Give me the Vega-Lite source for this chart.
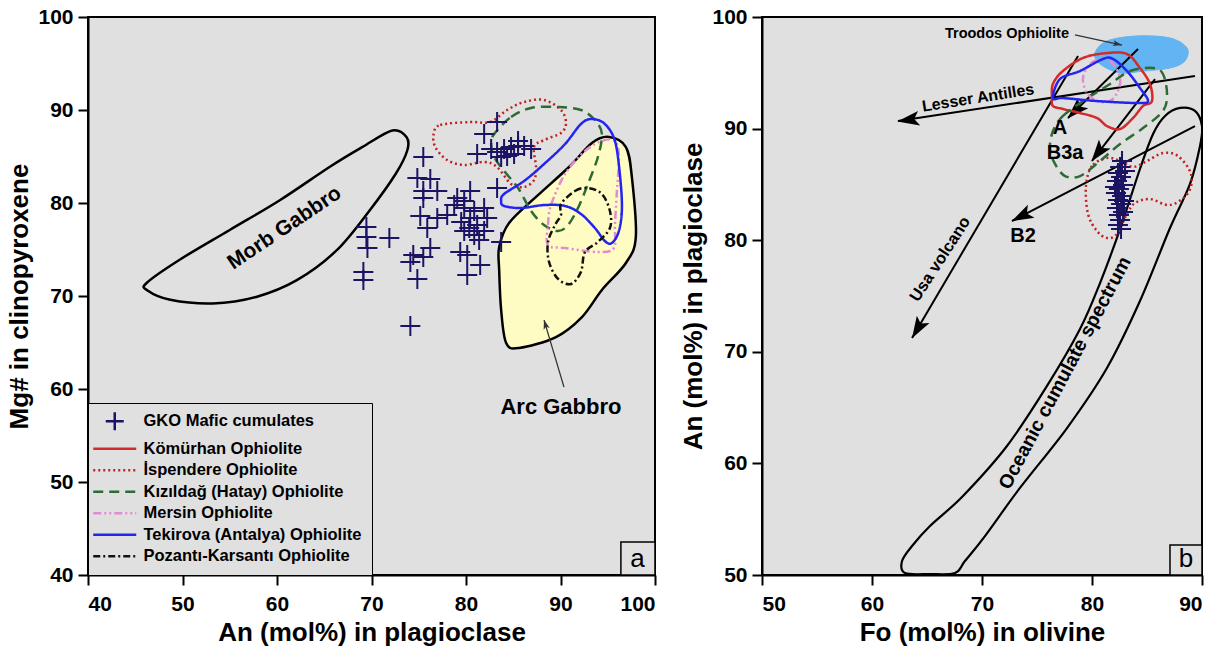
{
  "$schema": "https://vega.github.io/schema/vega-lite/v6.json",
  "padding": {"left": 5, "top": 5, "right": 5, "bottom": 5},
  "background": "white",
  "spacing": 22,
  "config": {
    "font": "Liberation Sans",
    "view": {"stroke": "black", "strokeWidth": 2, "fill": "#e0e0e0"},
    "axis": {"grid": false, "domainColor": "black", "domainWidth": 2, "tickColor": "black", "tickWidth": 2, "tickSize": 10, "labelFont": "Liberation Sans", "labelFontSize": 21, "labelFontWeight": "bold", "labelColor": "black", "labelPadding": 5, "titleFont": "Liberation Sans", "titleFontSize": 26, "titleFontWeight": "bold", "titleColor": "black", "titlePadding": 5},
    "axisX": {"labelPadding": 8},
    "legend": {"orient": "bottom-left", "offset": 0, "padding": 10, "strokeColor": "black", "fillColor": "#e0e0e0", "labelFont": "Liberation Sans", "labelFontSize": 16.5, "labelFontWeight": "bold", "labelColor": "black", "symbolSize": 100, "symbolStrokeWidth": 2.5, "labelOffset": 29, "rowPadding": 4.5, "labelLimit": 400},
    "text": {"font": "Liberation Sans", "fontWeight": "bold", "color": "black"}
  },
  "datasets": {
    "leftShapes": [
      {"shape": "Morb Gabbro", "i": 0, "x": 46.2, "y": 71.4},
      {"shape": "Morb Gabbro", "i": 1, "x": 49.7, "y": 73.9},
      {"shape": "Morb Gabbro", "i": 2, "x": 55.0, "y": 77.1},
      {"shape": "Morb Gabbro", "i": 3, "x": 60.3, "y": 80.3},
      {"shape": "Morb Gabbro", "i": 4, "x": 65.6, "y": 83.9},
      {"shape": "Morb Gabbro", "i": 5, "x": 69.0, "y": 86.0},
      {"shape": "Morb Gabbro", "i": 6, "x": 72.2, "y": 87.8},
      {"shape": "Morb Gabbro", "i": 7, "x": 73.7, "y": 87.1},
      {"shape": "Morb Gabbro", "i": 8, "x": 73.8, "y": 85.7},
      {"shape": "Morb Gabbro", "i": 9, "x": 72.6, "y": 83.2},
      {"shape": "Morb Gabbro", "i": 10, "x": 69.8, "y": 79.2},
      {"shape": "Morb Gabbro", "i": 11, "x": 66.3, "y": 74.9},
      {"shape": "Morb Gabbro", "i": 12, "x": 62.1, "y": 71.7},
      {"shape": "Morb Gabbro", "i": 13, "x": 57.8, "y": 69.9},
      {"shape": "Morb Gabbro", "i": 14, "x": 53.2, "y": 69.2},
      {"shape": "Morb Gabbro", "i": 15, "x": 48.7, "y": 69.6},
      {"shape": "Morb Gabbro", "i": 16, "x": 46.3, "y": 70.6},
      {"shape": "Arc Gabbro", "i": 0, "x": 95.12, "y": 87.10},
      {"shape": "Arc Gabbro", "i": 1, "x": 96.92, "y": 86.02},
      {"shape": "Arc Gabbro", "i": 2, "x": 97.55, "y": 82.80},
      {"shape": "Arc Gabbro", "i": 3, "x": 97.97, "y": 76.34},
      {"shape": "Arc Gabbro", "i": 4, "x": 96.92, "y": 73.55},
      {"shape": "Arc Gabbro", "i": 5, "x": 94.38, "y": 70.65},
      {"shape": "Arc Gabbro", "i": 6, "x": 92.27, "y": 67.74},
      {"shape": "Arc Gabbro", "i": 7, "x": 89.52, "y": 65.59},
      {"shape": "Arc Gabbro", "i": 8, "x": 85.62, "y": 64.41},
      {"shape": "Arc Gabbro", "i": 9, "x": 84.25, "y": 64.95},
      {"shape": "Arc Gabbro", "i": 10, "x": 83.72, "y": 68.49},
      {"shape": "Arc Gabbro", "i": 11, "x": 83.51, "y": 72.80},
      {"shape": "Arc Gabbro", "i": 12, "x": 83.51, "y": 75.27},
      {"shape": "Arc Gabbro", "i": 13, "x": 84.56, "y": 77.85},
      {"shape": "Arc Gabbro", "i": 14, "x": 87.41, "y": 80.65},
      {"shape": "Arc Gabbro", "i": 15, "x": 90.90, "y": 83.87},
      {"shape": "Arc Gabbro", "i": 16, "x": 93.33, "y": 86.45}
    ],
    "leftCurves": [
      {"series": "İspendere Ophiolite", "i": 0, "x": 76.58, "y": 87.44},
      {"series": "İspendere Ophiolite", "i": 1, "x": 77.28, "y": 88.39},
      {"series": "İspendere Ophiolite", "i": 2, "x": 80.44, "y": 88.71},
      {"series": "İspendere Ophiolite", "i": 3, "x": 82.56, "y": 88.71},
      {"series": "İspendere Ophiolite", "i": 4, "x": 84.35, "y": 90.00},
      {"series": "İspendere Ophiolite", "i": 5, "x": 86.15, "y": 90.86},
      {"series": "İspendere Ophiolite", "i": 6, "x": 88.26, "y": 91.08},
      {"series": "İspendere Ophiolite", "i": 7, "x": 90.05, "y": 90.00},
      {"series": "İspendere Ophiolite", "i": 8, "x": 90.58, "y": 88.60},
      {"series": "İspendere Ophiolite", "i": 9, "x": 90.05, "y": 87.53},
      {"series": "İspendere Ophiolite", "i": 10, "x": 88.26, "y": 86.77},
      {"series": "İspendere Ophiolite", "i": 11, "x": 87.20, "y": 86.02},
      {"series": "İspendere Ophiolite", "i": 12, "x": 87.41, "y": 83.87},
      {"series": "İspendere Ophiolite", "i": 13, "x": 87.20, "y": 82.47},
      {"series": "İspendere Ophiolite", "i": 14, "x": 86.15, "y": 81.72},
      {"series": "İspendere Ophiolite", "i": 15, "x": 84.77, "y": 82.04},
      {"series": "İspendere Ophiolite", "i": 16, "x": 83.29, "y": 83.87},
      {"series": "İspendere Ophiolite", "i": 17, "x": 81.92, "y": 84.41},
      {"series": "İspendere Ophiolite", "i": 18, "x": 79.81, "y": 84.09},
      {"series": "İspendere Ophiolite", "i": 19, "x": 78.01, "y": 84.62},
      {"series": "İspendere Ophiolite", "i": 20, "x": 76.75, "y": 86.02},
      {"series": "Kızıldağ (Hatay) Ophiolite", "i": 0, "x": 82.98, "y": 87.42},
      {"series": "Kızıldağ (Hatay) Ophiolite", "i": 1, "x": 84.77, "y": 89.25},
      {"series": "Kızıldağ (Hatay) Ophiolite", "i": 2, "x": 86.89, "y": 90.22},
      {"series": "Kızıldağ (Hatay) Ophiolite", "i": 3, "x": 89.74, "y": 90.32},
      {"series": "Kızıldağ (Hatay) Ophiolite", "i": 4, "x": 92.16, "y": 90.00},
      {"series": "Kızıldağ (Hatay) Ophiolite", "i": 5, "x": 93.64, "y": 88.92},
      {"series": "Kızıldağ (Hatay) Ophiolite", "i": 6, "x": 94.38, "y": 87.42},
      {"series": "Kızıldağ (Hatay) Ophiolite", "i": 7, "x": 93.96, "y": 84.95},
      {"series": "Kızıldağ (Hatay) Ophiolite", "i": 8, "x": 92.90, "y": 82.04},
      {"series": "Kızıldağ (Hatay) Ophiolite", "i": 9, "x": 91.85, "y": 79.46},
      {"series": "Kızıldağ (Hatay) Ophiolite", "i": 10, "x": 90.79, "y": 77.63},
      {"series": "Kızıldağ (Hatay) Ophiolite", "i": 11, "x": 89.74, "y": 76.99},
      {"series": "Kızıldağ (Hatay) Ophiolite", "i": 12, "x": 88.26, "y": 77.63},
      {"series": "Kızıldağ (Hatay) Ophiolite", "i": 13, "x": 86.89, "y": 79.14},
      {"series": "Kızıldağ (Hatay) Ophiolite", "i": 14, "x": 85.51, "y": 81.61},
      {"series": "Kızıldağ (Hatay) Ophiolite", "i": 15, "x": 84.03, "y": 83.44},
      {"series": "Kızıldağ (Hatay) Ophiolite", "i": 16, "x": 82.98, "y": 84.95},
      {"series": "Kızıldağ (Hatay) Ophiolite", "i": 17, "x": 82.66, "y": 86.34},
      {"series": "Mersin Ophiolite", "i": 0, "x": 88.68, "y": 75.48},
      {"series": "Mersin Ophiolite", "i": 1, "x": 88.68, "y": 77.63},
      {"series": "Mersin Ophiolite", "i": 2, "x": 89.00, "y": 79.78},
      {"series": "Mersin Ophiolite", "i": 3, "x": 90.48, "y": 83.12},
      {"series": "Mersin Ophiolite", "i": 4, "x": 92.59, "y": 85.59},
      {"series": "Mersin Ophiolite", "i": 5, "x": 94.38, "y": 86.67},
      {"series": "Mersin Ophiolite", "i": 6, "x": 95.76, "y": 86.67},
      {"series": "Mersin Ophiolite", "i": 7, "x": 96.18, "y": 84.95},
      {"series": "Mersin Ophiolite", "i": 8, "x": 95.97, "y": 81.29},
      {"series": "Mersin Ophiolite", "i": 9, "x": 95.76, "y": 77.63},
      {"series": "Mersin Ophiolite", "i": 10, "x": 95.65, "y": 75.16},
      {"series": "Mersin Ophiolite", "i": 11, "x": 93.96, "y": 74.73},
      {"series": "Mersin Ophiolite", "i": 12, "x": 90.48, "y": 75.16},
      {"series": "Tekirova (Antalya) Ophiolite", "i": 0, "x": 83.72, "y": 80.22},
      {"series": "Tekirova (Antalya) Ophiolite", "i": 1, "x": 84.03, "y": 80.97},
      {"series": "Tekirova (Antalya) Ophiolite", "i": 2, "x": 86.15, "y": 82.37},
      {"series": "Tekirova (Antalya) Ophiolite", "i": 3, "x": 88.26, "y": 84.19},
      {"series": "Tekirova (Antalya) Ophiolite", "i": 4, "x": 90.48, "y": 86.34},
      {"series": "Tekirova (Antalya) Ophiolite", "i": 5, "x": 92.16, "y": 88.49},
      {"series": "Tekirova (Antalya) Ophiolite", "i": 6, "x": 93.33, "y": 89.03},
      {"series": "Tekirova (Antalya) Ophiolite", "i": 7, "x": 94.70, "y": 88.49},
      {"series": "Tekirova (Antalya) Ophiolite", "i": 8, "x": 95.76, "y": 86.67},
      {"series": "Tekirova (Antalya) Ophiolite", "i": 9, "x": 96.28, "y": 83.12},
      {"series": "Tekirova (Antalya) Ophiolite", "i": 10, "x": 96.50, "y": 79.46},
      {"series": "Tekirova (Antalya) Ophiolite", "i": 11, "x": 96.18, "y": 76.99},
      {"series": "Tekirova (Antalya) Ophiolite", "i": 12, "x": 95.44, "y": 75.70},
      {"series": "Tekirova (Antalya) Ophiolite", "i": 13, "x": 94.70, "y": 75.91},
      {"series": "Tekirova (Antalya) Ophiolite", "i": 14, "x": 93.64, "y": 77.31},
      {"series": "Tekirova (Antalya) Ophiolite", "i": 15, "x": 92.16, "y": 78.82},
      {"series": "Tekirova (Antalya) Ophiolite", "i": 16, "x": 90.48, "y": 79.68},
      {"series": "Tekirova (Antalya) Ophiolite", "i": 17, "x": 88.26, "y": 79.78},
      {"series": "Tekirova (Antalya) Ophiolite", "i": 18, "x": 85.83, "y": 79.46},
      {"series": "Tekirova (Antalya) Ophiolite", "i": 19, "x": 84.03, "y": 79.68},
      {"series": "Pozantı-Karsantı Ophiolite", "i": 0, "x": 90.05, "y": 79.89},
      {"series": "Pozantı-Karsantı Ophiolite", "i": 1, "x": 91.53, "y": 81.29},
      {"series": "Pozantı-Karsantı Ophiolite", "i": 2, "x": 92.90, "y": 81.61},
      {"series": "Pozantı-Karsantı Ophiolite", "i": 3, "x": 94.38, "y": 80.97},
      {"series": "Pozantı-Karsantı Ophiolite", "i": 4, "x": 95.23, "y": 79.14},
      {"series": "Pozantı-Karsantı Ophiolite", "i": 5, "x": 95.23, "y": 77.31},
      {"series": "Pozantı-Karsantı Ophiolite", "i": 6, "x": 93.96, "y": 75.81},
      {"series": "Pozantı-Karsantı Ophiolite", "i": 7, "x": 92.59, "y": 74.73},
      {"series": "Pozantı-Karsantı Ophiolite", "i": 8, "x": 92.16, "y": 72.58},
      {"series": "Pozantı-Karsantı Ophiolite", "i": 9, "x": 91.11, "y": 71.29},
      {"series": "Pozantı-Karsantı Ophiolite", "i": 10, "x": 89.74, "y": 71.83},
      {"series": "Pozantı-Karsantı Ophiolite", "i": 11, "x": 88.79, "y": 73.66},
      {"series": "Pozantı-Karsantı Ophiolite", "i": 12, "x": 88.68, "y": 75.81},
      {"series": "Pozantı-Karsantı Ophiolite", "i": 13, "x": 89.42, "y": 77.63},
      {"series": "Pozantı-Karsantı Ophiolite", "i": 14, "x": 90.05, "y": 78.71}
    ],
    "leftCrosses": [
      {"series": "GKO Mafic cumulates", "x": 69.46, "y": 77.42},
      {"series": "GKO Mafic cumulates", "x": 69.46, "y": 76.34},
      {"series": "GKO Mafic cumulates", "x": 71.89, "y": 76.24},
      {"series": "GKO Mafic cumulates", "x": 69.57, "y": 75.16},
      {"series": "GKO Mafic cumulates", "x": 69.14, "y": 72.58},
      {"series": "GKO Mafic cumulates", "x": 69.14, "y": 71.72},
      {"series": "GKO Mafic cumulates", "x": 75.48, "y": 84.95},
      {"series": "GKO Mafic cumulates", "x": 74.85, "y": 82.69},
      {"series": "GKO Mafic cumulates", "x": 76.22, "y": 82.58},
      {"series": "GKO Mafic cumulates", "x": 75.48, "y": 81.29},
      {"series": "GKO Mafic cumulates", "x": 76.96, "y": 81.29},
      {"series": "GKO Mafic cumulates", "x": 75.48, "y": 80.54},
      {"series": "GKO Mafic cumulates", "x": 75.16, "y": 78.60},
      {"series": "GKO Mafic cumulates", "x": 76.96, "y": 78.39},
      {"series": "GKO Mafic cumulates", "x": 75.90, "y": 77.31},
      {"series": "GKO Mafic cumulates", "x": 76.22, "y": 75.16},
      {"series": "GKO Mafic cumulates", "x": 74.42, "y": 74.41},
      {"series": "GKO Mafic cumulates", "x": 75.48, "y": 74.19},
      {"series": "GKO Mafic cumulates", "x": 74.11, "y": 73.66},
      {"series": "GKO Mafic cumulates", "x": 74.85, "y": 71.83},
      {"series": "GKO Mafic cumulates", "x": 74.11, "y": 66.77},
      {"series": "GKO Mafic cumulates", "x": 79.07, "y": 80.54},
      {"series": "GKO Mafic cumulates", "x": 79.81, "y": 80.22},
      {"series": "GKO Mafic cumulates", "x": 80.44, "y": 81.29},
      {"series": "GKO Mafic cumulates", "x": 79.81, "y": 79.46},
      {"series": "GKO Mafic cumulates", "x": 80.87, "y": 79.14},
      {"series": "GKO Mafic cumulates", "x": 81.92, "y": 79.46},
      {"series": "GKO Mafic cumulates", "x": 78.01, "y": 78.71},
      {"series": "GKO Mafic cumulates", "x": 80.44, "y": 78.39},
      {"series": "GKO Mafic cumulates", "x": 82.24, "y": 78.39},
      {"series": "GKO Mafic cumulates", "x": 81.18, "y": 77.63},
      {"series": "GKO Mafic cumulates", "x": 79.81, "y": 76.99},
      {"series": "GKO Mafic cumulates", "x": 80.87, "y": 76.56},
      {"series": "GKO Mafic cumulates", "x": 81.92, "y": 76.99},
      {"series": "GKO Mafic cumulates", "x": 79.39, "y": 74.73},
      {"series": "GKO Mafic cumulates", "x": 80.13, "y": 74.41},
      {"series": "GKO Mafic cumulates", "x": 81.50, "y": 73.33},
      {"series": "GKO Mafic cumulates", "x": 80.13, "y": 72.26},
      {"series": "GKO Mafic cumulates", "x": 83.29, "y": 81.61},
      {"series": "GKO Mafic cumulates", "x": 83.72, "y": 75.81},
      {"series": "GKO Mafic cumulates", "x": 83.29, "y": 88.71},
      {"series": "GKO Mafic cumulates", "x": 81.92, "y": 87.42},
      {"series": "GKO Mafic cumulates", "x": 81.18, "y": 85.27},
      {"series": "GKO Mafic cumulates", "x": 82.66, "y": 85.81},
      {"series": "GKO Mafic cumulates", "x": 83.29, "y": 85.48},
      {"series": "GKO Mafic cumulates", "x": 84.03, "y": 85.81},
      {"series": "GKO Mafic cumulates", "x": 84.77, "y": 86.02},
      {"series": "GKO Mafic cumulates", "x": 85.51, "y": 86.13},
      {"series": "GKO Mafic cumulates", "x": 86.15, "y": 86.13},
      {"series": "GKO Mafic cumulates", "x": 86.89, "y": 85.81},
      {"series": "GKO Mafic cumulates", "x": 84.35, "y": 85.05},
      {"series": "GKO Mafic cumulates", "x": 85.09, "y": 85.27},
      {"series": "GKO Mafic cumulates", "x": 83.72, "y": 84.95},
      {"series": "GKO Mafic cumulates", "x": 85.51, "y": 86.67},
      {"series": "GKO Mafic cumulates", "x": 78.75, "y": 79.78},
      {"series": "GKO Mafic cumulates", "x": 79.49, "y": 77.96},
      {"series": "GKO Mafic cumulates", "x": 80.34, "y": 77.31},
      {"series": "GKO Mafic cumulates", "x": 81.39, "y": 76.02}
    ],
    "leftArrow": [
      {"i": 0, "x": 90.37, "y": 60.2},
      {"i": 1, "x": 88.26, "y": 67.4}
    ],
    "leftHead": [{"x": 88.41, "y": 66.90}],
    "leftNotes": [
      {"label": "Morb Gabbro", "x": 60.8, "y": 77.3},
      {"label": "Arc Gabbro", "x": 90.05, "y": 58.06},
      {"label": "a", "x": 98.15, "y": 41.7}
    ],
    "leftBox": [{"x": 96.39, "x2": 100, "y": 40, "y2": 43.55}],
    "rightTroodos": [
      {"i": 0, "x": 80.27, "y": 96.77},
      {"i": 1, "x": 81.36, "y": 97.85},
      {"i": 2, "x": 84.09, "y": 98.30},
      {"i": 3, "x": 87.09, "y": 98.12},
      {"i": 4, "x": 88.64, "y": 97.22},
      {"i": 5, "x": 88.45, "y": 96.06},
      {"i": 6, "x": 87.09, "y": 95.43},
      {"i": 7, "x": 84.64, "y": 95.16},
      {"i": 8, "x": 82.55, "y": 94.98},
      {"i": 9, "x": 80.73, "y": 95.79}
    ],
    "rightOceanic": [
      {"i": 0, "x": 63.00, "y": 50.18},
      {"i": 1, "x": 62.73, "y": 51.25},
      {"i": 2, "x": 63.64, "y": 52.60},
      {"i": 3, "x": 65.27, "y": 54.39},
      {"i": 4, "x": 68.27, "y": 57.08},
      {"i": 5, "x": 72.27, "y": 61.56},
      {"i": 6, "x": 75.91, "y": 66.94},
      {"i": 7, "x": 78.91, "y": 72.04},
      {"i": 8, "x": 80.73, "y": 76.16},
      {"i": 9, "x": 82.55, "y": 81.00},
      {"i": 10, "x": 84.36, "y": 86.38},
      {"i": 11, "x": 85.55, "y": 89.52},
      {"i": 12, "x": 86.64, "y": 91.13},
      {"i": 13, "x": 88.00, "y": 91.85},
      {"i": 14, "x": 89.36, "y": 91.58},
      {"i": 15, "x": 90.00, "y": 90.23},
      {"i": 16, "x": 89.82, "y": 88.44},
      {"i": 17, "x": 88.91, "y": 85.04},
      {"i": 18, "x": 87.09, "y": 81.09},
      {"i": 19, "x": 84.36, "y": 74.55},
      {"i": 20, "x": 81.36, "y": 68.55},
      {"i": 21, "x": 77.73, "y": 63.17},
      {"i": 22, "x": 73.45, "y": 57.80},
      {"i": 23, "x": 70.27, "y": 53.49},
      {"i": 24, "x": 68.45, "y": 51.25},
      {"i": 25, "x": 67.55, "y": 50.18},
      {"i": 26, "x": 65.27, "y": 50.09}
    ],
    "rightArrows": [
      {"arrow": "Lesser Antilles", "i": 0, "x": 89.36, "y": 94.71},
      {"arrow": "Lesser Antilles", "i": 1, "x": 62.36, "y": 90.68},
      {"arrow": "Usa volcano", "i": 0, "x": 78.73, "y": 96.51},
      {"arrow": "Usa volcano", "i": 1, "x": 63.64, "y": 71.24},
      {"arrow": "A", "i": 0, "x": 84.18, "y": 97.13},
      {"arrow": "A", "i": 1, "x": 77.82, "y": 90.95},
      {"arrow": "B3a", "i": 0, "x": 85.73, "y": 94.44},
      {"arrow": "B3a", "i": 1, "x": 80.00, "y": 87.10},
      {"arrow": "B2", "i": 0, "x": 89.36, "y": 90.23},
      {"arrow": "B2", "i": 1, "x": 72.73, "y": 81.72}
    ],
    "rightHeads": [
      {"arrow": "Lesser Antilles", "x": 63.40, "y": 90.80},
      {"arrow": "Usa volcano", "x": 64.20, "y": 72.15},
      {"arrow": "A", "x": 78.56, "y": 91.68},
      {"arrow": "B3a", "x": 80.62, "y": 87.92},
      {"arrow": "B2", "x": 73.68, "y": 82.20}
    ],
    "rightPointer": [
      {"i": 0, "x": 78.45, "y": 98.39},
      {"i": 1, "x": 82.73, "y": 97.49}
    ],
    "rightPointerHead": [{"x": 82.28, "y": 97.58}],
    "rightCurves": [
      {"series": "Kömürhan Ophiolite", "i": 0, "x": 76.45, "y": 94.00},
      {"series": "Kömürhan Ophiolite", "i": 1, "x": 77.36, "y": 95.16},
      {"series": "Kömürhan Ophiolite", "i": 2, "x": 79.18, "y": 96.33},
      {"series": "Kömürhan Ophiolite", "i": 3, "x": 81.36, "y": 96.77},
      {"series": "Kömürhan Ophiolite", "i": 4, "x": 83.18, "y": 96.68},
      {"series": "Kömürhan Ophiolite", "i": 5, "x": 84.36, "y": 95.43},
      {"series": "Kömürhan Ophiolite", "i": 6, "x": 85.27, "y": 94.00},
      {"series": "Kömürhan Ophiolite", "i": 7, "x": 85.45, "y": 92.47},
      {"series": "Kömürhan Ophiolite", "i": 8, "x": 84.64, "y": 92.03},
      {"series": "Kömürhan Ophiolite", "i": 9, "x": 83.73, "y": 90.95},
      {"series": "Kömürhan Ophiolite", "i": 10, "x": 82.55, "y": 89.96},
      {"series": "Kömürhan Ophiolite", "i": 11, "x": 81.36, "y": 90.23},
      {"series": "Kömürhan Ophiolite", "i": 12, "x": 80.45, "y": 90.95},
      {"series": "Kömürhan Ophiolite", "i": 13, "x": 78.91, "y": 91.40},
      {"series": "Kömürhan Ophiolite", "i": 14, "x": 77.36, "y": 91.76},
      {"series": "Kömürhan Ophiolite", "i": 15, "x": 76.45, "y": 92.03},
      {"series": "Kömürhan Ophiolite", "i": 16, "x": 76.36, "y": 92.74},
      {"series": "İspendere Ophiolite", "i": 0, "x": 81.36, "y": 87.37},
      {"series": "İspendere Ophiolite", "i": 1, "x": 80.00, "y": 86.65},
      {"series": "İspendere Ophiolite", "i": 2, "x": 79.45, "y": 84.86},
      {"series": "İspendere Ophiolite", "i": 3, "x": 79.64, "y": 82.35},
      {"series": "İspendere Ophiolite", "i": 4, "x": 80.45, "y": 80.82},
      {"series": "İspendere Ophiolite", "i": 5, "x": 81.36, "y": 80.20},
      {"series": "İspendere Ophiolite", "i": 6, "x": 82.27, "y": 80.56},
      {"series": "İspendere Ophiolite", "i": 7, "x": 83.18, "y": 82.35},
      {"series": "İspendere Ophiolite", "i": 8, "x": 83.91, "y": 83.33},
      {"series": "İspendere Ophiolite", "i": 9, "x": 85.27, "y": 83.69},
      {"series": "İspendere Ophiolite", "i": 10, "x": 87.09, "y": 83.15},
      {"series": "İspendere Ophiolite", "i": 11, "x": 88.73, "y": 84.23},
      {"series": "İspendere Ophiolite", "i": 12, "x": 89.00, "y": 85.93},
      {"series": "İspendere Ophiolite", "i": 13, "x": 87.82, "y": 87.54},
      {"series": "İspendere Ophiolite", "i": 14, "x": 86.45, "y": 87.81},
      {"series": "İspendere Ophiolite", "i": 15, "x": 85.00, "y": 87.10},
      {"series": "İspendere Ophiolite", "i": 16, "x": 83.73, "y": 86.56},
      {"series": "İspendere Ophiolite", "i": 17, "x": 82.55, "y": 87.10},
      {"series": "Kızıldağ (Hatay) Ophiolite", "i": 0, "x": 76.45, "y": 89.78},
      {"series": "Kızıldağ (Hatay) Ophiolite", "i": 1, "x": 77.36, "y": 91.13},
      {"series": "Kızıldağ (Hatay) Ophiolite", "i": 2, "x": 79.18, "y": 92.47},
      {"series": "Kızıldağ (Hatay) Ophiolite", "i": 3, "x": 81.64, "y": 94.00},
      {"series": "Kızıldağ (Hatay) Ophiolite", "i": 4, "x": 83.45, "y": 95.16},
      {"series": "Kızıldağ (Hatay) Ophiolite", "i": 5, "x": 85.55, "y": 95.43},
      {"series": "Kızıldağ (Hatay) Ophiolite", "i": 6, "x": 86.45, "y": 94.89},
      {"series": "Kızıldağ (Hatay) Ophiolite", "i": 7, "x": 86.82, "y": 93.10},
      {"series": "Kızıldağ (Hatay) Ophiolite", "i": 8, "x": 86.45, "y": 91.58},
      {"series": "Kızıldağ (Hatay) Ophiolite", "i": 9, "x": 84.64, "y": 90.05},
      {"series": "Kızıldağ (Hatay) Ophiolite", "i": 10, "x": 82.55, "y": 88.62},
      {"series": "Kızıldağ (Hatay) Ophiolite", "i": 11, "x": 80.73, "y": 87.10},
      {"series": "Kızıldağ (Hatay) Ophiolite", "i": 12, "x": 78.91, "y": 85.75},
      {"series": "Kızıldağ (Hatay) Ophiolite", "i": 13, "x": 77.55, "y": 85.75},
      {"series": "Kızıldağ (Hatay) Ophiolite", "i": 14, "x": 76.64, "y": 86.83},
      {"series": "Kızıldağ (Hatay) Ophiolite", "i": 15, "x": 76.18, "y": 88.17},
      {"series": "Mersin Ophiolite", "i": 0, "x": 79.18, "y": 94.53},
      {"series": "Mersin Ophiolite", "i": 1, "x": 79.82, "y": 95.79},
      {"series": "Mersin Ophiolite", "i": 2, "x": 81.00, "y": 96.24},
      {"series": "Mersin Ophiolite", "i": 3, "x": 81.91, "y": 95.79},
      {"series": "Mersin Ophiolite", "i": 4, "x": 82.55, "y": 94.53},
      {"series": "Mersin Ophiolite", "i": 5, "x": 82.36, "y": 93.37},
      {"series": "Mersin Ophiolite", "i": 6, "x": 81.64, "y": 92.47},
      {"series": "Mersin Ophiolite", "i": 7, "x": 80.45, "y": 92.47},
      {"series": "Mersin Ophiolite", "i": 8, "x": 79.55, "y": 93.19},
      {"series": "Tekirova (Antalya) Ophiolite", "i": 0, "x": 76.45, "y": 92.74},
      {"series": "Tekirova (Antalya) Ophiolite", "i": 1, "x": 77.09, "y": 94.44},
      {"series": "Tekirova (Antalya) Ophiolite", "i": 2, "x": 78.91, "y": 95.16},
      {"series": "Tekirova (Antalya) Ophiolite", "i": 3, "x": 81.00, "y": 96.24},
      {"series": "Tekirova (Antalya) Ophiolite", "i": 4, "x": 81.91, "y": 96.24},
      {"series": "Tekirova (Antalya) Ophiolite", "i": 5, "x": 83.18, "y": 95.16},
      {"series": "Tekirova (Antalya) Ophiolite", "i": 6, "x": 84.36, "y": 93.64},
      {"series": "Tekirova (Antalya) Ophiolite", "i": 7, "x": 85.09, "y": 92.47},
      {"series": "Tekirova (Antalya) Ophiolite", "i": 8, "x": 84.09, "y": 92.29},
      {"series": "Tekirova (Antalya) Ophiolite", "i": 9, "x": 80.45, "y": 92.47},
      {"series": "Tekirova (Antalya) Ophiolite", "i": 10, "x": 77.36, "y": 92.74}
    ],
    "rightCrosses": [
      {"series": "GKO Mafic cumulates", "x": 82.73, "y": 87.10},
      {"series": "GKO Mafic cumulates", "x": 82.55, "y": 86.56},
      {"series": "GKO Mafic cumulates", "x": 82.36, "y": 86.02},
      {"series": "GKO Mafic cumulates", "x": 82.64, "y": 85.66},
      {"series": "GKO Mafic cumulates", "x": 82.27, "y": 85.30},
      {"series": "GKO Mafic cumulates", "x": 82.82, "y": 84.95},
      {"series": "GKO Mafic cumulates", "x": 82.45, "y": 84.59},
      {"series": "GKO Mafic cumulates", "x": 82.18, "y": 84.23},
      {"series": "GKO Mafic cumulates", "x": 82.73, "y": 83.96},
      {"series": "GKO Mafic cumulates", "x": 82.36, "y": 83.60},
      {"series": "GKO Mafic cumulates", "x": 82.64, "y": 83.24},
      {"series": "GKO Mafic cumulates", "x": 82.27, "y": 82.89},
      {"series": "GKO Mafic cumulates", "x": 82.82, "y": 82.53},
      {"series": "GKO Mafic cumulates", "x": 82.45, "y": 82.26},
      {"series": "GKO Mafic cumulates", "x": 82.55, "y": 81.81},
      {"series": "GKO Mafic cumulates", "x": 82.36, "y": 81.36},
      {"series": "GKO Mafic cumulates", "x": 82.64, "y": 81.00},
      {"series": "GKO Mafic cumulates", "x": 83.00, "y": 86.20},
      {"series": "GKO Mafic cumulates", "x": 82.09, "y": 84.77},
      {"series": "GKO Mafic cumulates", "x": 82.91, "y": 83.51}
    ],
    "rightNotes": [
      {"label": "Troodos Ophiolite", "x": 72.27, "y": 98.48},
      {"label": "Lesser Antilles", "x": 69.64, "y": 92.75},
      {"label": "Usa volcano", "x": 66.2, "y": 78.3},
      {"label": "A", "x": 77.09, "y": 90.05},
      {"label": "B3a", "x": 77.55, "y": 87.81},
      {"label": "B2", "x": 73.73, "y": 80.38},
      {"label": "Oceanic cumulate spectrum", "x": 77.55, "y": 68.10},
      {"label": "b", "x": 88.55, "y": 51.4}
    ],
    "rightBox": [{"x": 87.09, "x2": 90, "y": 50, "y2": 52.69}]
  },
  "resolve": {"scale": {"color": "independent", "strokeDash": "independent"}},
  "hconcat": [
    {
      "width": 567,
      "height": 558,
      "encoding": {
        "x": {"field": "x", "type": "quantitative", "scale": {"domain": [40, 100], "nice": false, "zero": false}, "axis": {"values": [40, 50, 60, 70, 80, 90, 100], "title": "An (mol%) in plagioclase"}},
        "y": {"field": "y", "type": "quantitative", "scale": {"domain": [40, 100], "nice": false, "zero": false}, "axis": {"values": [40, 50, 60, 70, 80, 90, 100], "title": "Mg# in clinopyroxene"}}
      },
      "layer": [
        {"data": {"name": "leftShapes"}, "transform": [{"filter": "datum.shape === 'Arc Gabbro'"}], "mark": {"type": "line", "interpolate": "cardinal-closed", "fill": "#fefcc3", "stroke": "black", "strokeWidth": 2.5}, "encoding": {"order": {"field": "i", "type": "quantitative"}}},
        {"data": {"name": "leftShapes"}, "transform": [{"filter": "datum.shape === 'Morb Gabbro'"}], "mark": {"type": "line", "interpolate": "cardinal-closed", "stroke": "black", "strokeWidth": 2.5}, "encoding": {"order": {"field": "i", "type": "quantitative"}}},
        {"data": {"name": "leftCurves"}, "mark": {"type": "line", "interpolate": "cardinal-closed", "strokeWidth": 2.5},
         "encoding": {
           "order": {"field": "i", "type": "quantitative"},
           "color": {"field": "series", "type": "nominal",
             "scale": {"domain": ["GKO Mafic cumulates", "Kömürhan Ophiolite", "İspendere Ophiolite", "Kızıldağ (Hatay) Ophiolite", "Mersin Ophiolite", "Tekirova (Antalya) Ophiolite", "Pozantı-Karsantı Ophiolite"], "range": ["#1b1464", "#d42a2a", "#c42020", "#2e6b34", "#e38bd0", "#2424f0", "#111111"]},
             "legend": {"title": null, "encode": {"symbols": {"update": {"shape": {"signal": "datum.value === 'GKO Mafic cumulates' ? 'M-0.1,0L3.5,0M1.7,-1.8L1.7,1.8' : 'M-2.6,0L6,0'"}}}}}},
           "strokeDash": {"field": "series", "type": "nominal",
             "scale": {"domain": ["GKO Mafic cumulates", "Kömürhan Ophiolite", "İspendere Ophiolite", "Kızıldağ (Hatay) Ophiolite", "Mersin Ophiolite", "Tekirova (Antalya) Ophiolite", "Pozantı-Karsantı Ophiolite"], "range": [[1, 0], [1, 0], [2, 3], [10, 6], [8, 3, 2, 3, 2, 3], [1, 0], [7, 3, 2, 3]]},
             "legend": {"title": null, "encode": {"symbols": {"update": {"shape": {"signal": "datum.value === 'GKO Mafic cumulates' ? 'M-0.1,0L3.5,0M1.7,-1.8L1.7,1.8' : 'M-2.6,0L6,0'"}}}}}}
         }},
        {"data": {"name": "leftCrosses"}, "mark": {"type": "point", "shape": "M-1,0L1,0M0,-1L0,1", "filled": false, "size": 400, "strokeWidth": 2, "opacity": 1},
         "encoding": {
           "color": {"field": "series", "type": "nominal",
             "scale": {"domain": ["GKO Mafic cumulates", "Kömürhan Ophiolite", "İspendere Ophiolite", "Kızıldağ (Hatay) Ophiolite", "Mersin Ophiolite", "Tekirova (Antalya) Ophiolite", "Pozantı-Karsantı Ophiolite"], "range": ["#1b1464", "#d42a2a", "#c42020", "#2e6b34", "#e38bd0", "#2424f0", "#111111"]},
             "legend": {"title": null, "encode": {"symbols": {"update": {"shape": {"signal": "datum.value === 'GKO Mafic cumulates' ? 'M-0.1,0L3.5,0M1.7,-1.8L1.7,1.8' : 'M-2.6,0L6,0'"}}}}}}
         }},
        {"data": {"name": "leftArrow"}, "mark": {"type": "line", "stroke": "#333333", "strokeWidth": 1.3}, "encoding": {"order": {"field": "i", "type": "quantitative"}}},
        {"data": {"name": "leftHead"}, "mark": {"type": "point", "shape": "M0,-1L0.6,0.8L0,0.4L-0.6,0.8Z", "filled": true, "color": "#333333", "size": 110, "angle": 343.4, "opacity": 1, "strokeWidth": 0}},
        {"data": {"name": "leftNotes"}, "transform": [{"filter": "datum.label === 'Morb Gabbro'"}], "mark": {"type": "text", "angle": 326, "fontSize": 21, "fontWeight": "bold"}, "encoding": {"text": {"field": "label", "type": "nominal"}}},
        {"data": {"name": "leftNotes"}, "transform": [{"filter": "datum.label === 'Arc Gabbro'"}], "mark": {"type": "text", "fontSize": 22, "fontWeight": "bold"}, "encoding": {"text": {"field": "label", "type": "nominal"}}},
        {"data": {"name": "leftBox"}, "mark": {"type": "rect", "fill": "#e0e0e0", "stroke": "black", "strokeWidth": 1.5}, "encoding": {"x2": {"field": "x2"}, "y2": {"field": "y2"}}},
        {"data": {"name": "leftNotes"}, "transform": [{"filter": "datum.label === 'a'"}], "mark": {"type": "text", "fontSize": 26, "fontWeight": "normal"}, "encoding": {"text": {"field": "label", "type": "nominal"}}}
      ]
    },
    {
      "width": 440,
      "height": 558,
      "encoding": {
        "x": {"field": "x", "type": "quantitative", "scale": {"domain": [50, 90], "nice": false, "zero": false}, "axis": {"values": [50, 60, 70, 80, 90], "title": "Fo (mol%) in olivine"}},
        "y": {"field": "y", "type": "quantitative", "scale": {"domain": [50, 100], "nice": false, "zero": false}, "axis": {"values": [50, 60, 70, 80, 90, 100], "title": "An (mol%) in plagioclase"}}
      },
      "layer": [
        {"data": {"name": "rightTroodos"}, "mark": {"type": "line", "interpolate": "cardinal-closed", "fill": "#62b4f2", "stroke": "#62b4f2", "strokeWidth": 1}, "encoding": {"order": {"field": "i", "type": "quantitative"}}},
        {"data": {"name": "rightOceanic"}, "mark": {"type": "line", "interpolate": "cardinal-closed", "stroke": "black", "strokeWidth": 2.2, "clip": true}, "encoding": {"order": {"field": "i", "type": "quantitative"}}},
        {"data": {"name": "rightArrows"}, "mark": {"type": "line", "stroke": "black", "strokeWidth": 2}, "encoding": {"order": {"field": "i", "type": "quantitative"}, "detail": {"field": "arrow", "type": "nominal"}}},
        {"data": {"name": "rightHeads"}, "transform": [{"filter": "datum.arrow === 'Lesser Antilles'"}], "mark": {"type": "point", "shape": "M0,-1L0.6,0.8L0,0.4L-0.6,0.8Z", "filled": true, "color": "black", "size": 600, "angle": 261.4, "opacity": 1, "strokeWidth": 0}},
        {"data": {"name": "rightHeads"}, "transform": [{"filter": "datum.arrow === 'Usa volcano'"}], "mark": {"type": "point", "shape": "M0,-1L0.6,0.8L0,0.4L-0.6,0.8Z", "filled": true, "color": "black", "size": 600, "angle": 210.5, "opacity": 1, "strokeWidth": 0}},
        {"data": {"name": "rightHeads"}, "transform": [{"filter": "datum.arrow === 'A'"}], "mark": {"type": "point", "shape": "M0,-1L0.6,0.8L0,0.4L-0.6,0.8Z", "filled": true, "color": "black", "size": 600, "angle": 225.4, "opacity": 1, "strokeWidth": 0}},
        {"data": {"name": "rightHeads"}, "transform": [{"filter": "datum.arrow === 'B3a'"}], "mark": {"type": "point", "shape": "M0,-1L0.6,0.8L0,0.4L-0.6,0.8Z", "filled": true, "color": "black", "size": 600, "angle": 217.5, "opacity": 1, "strokeWidth": 0}},
        {"data": {"name": "rightHeads"}, "transform": [{"filter": "datum.arrow === 'B2'"}], "mark": {"type": "point", "shape": "M0,-1L0.6,0.8L0,0.4L-0.6,0.8Z", "filled": true, "color": "black", "size": 600, "angle": 243, "opacity": 1, "strokeWidth": 0}},
        {"data": {"name": "rightCurves"}, "mark": {"type": "line", "interpolate": "cardinal-closed", "strokeWidth": 2.5},
         "encoding": {
           "order": {"field": "i", "type": "quantitative"},
           "color": {"field": "series", "type": "nominal",
             "scale": {"domain": ["GKO Mafic cumulates", "Kömürhan Ophiolite", "İspendere Ophiolite", "Kızıldağ (Hatay) Ophiolite", "Mersin Ophiolite", "Tekirova (Antalya) Ophiolite", "Pozantı-Karsantı Ophiolite"], "range": ["#1b1464", "#d42a2a", "#c42020", "#2e6b34", "#e38bd0", "#2424f0", "#111111"]},
             "legend": null},
           "strokeDash": {"field": "series", "type": "nominal",
             "scale": {"domain": ["GKO Mafic cumulates", "Kömürhan Ophiolite", "İspendere Ophiolite", "Kızıldağ (Hatay) Ophiolite", "Mersin Ophiolite", "Tekirova (Antalya) Ophiolite", "Pozantı-Karsantı Ophiolite"], "range": [[1, 0], [1, 0], [2, 3], [10, 6], [8, 3, 2, 3, 2, 3], [1, 0], [7, 3, 2, 3]]},
             "legend": null}
         }},
        {"data": {"name": "rightCrosses"}, "mark": {"type": "point", "shape": "M-1,0L1,0M0,-1L0,1", "filled": false, "size": 400, "strokeWidth": 2, "opacity": 1, "color": "#1b1464"}},
        {"data": {"name": "rightPointer"}, "mark": {"type": "line", "stroke": "#333333", "strokeWidth": 1.3}, "encoding": {"order": {"field": "i", "type": "quantitative"}}},
        {"data": {"name": "rightPointerHead"}, "mark": {"type": "point", "shape": "M0,-1L0.6,0.8L0,0.4L-0.6,0.8Z", "filled": true, "color": "#333333", "size": 100, "angle": 102, "opacity": 1, "strokeWidth": 0}},
        {"data": {"name": "rightNotes"}, "transform": [{"filter": "datum.label === 'Troodos Ophiolite'"}], "mark": {"type": "text", "fontSize": 14.5, "fontWeight": "bold"}, "encoding": {"text": {"field": "label", "type": "nominal"}}},
        {"data": {"name": "rightNotes"}, "transform": [{"filter": "datum.label === 'Lesser Antilles'"}], "mark": {"type": "text", "fontSize": 16, "fontWeight": "bold", "angle": 351}, "encoding": {"text": {"field": "label", "type": "nominal"}}},
        {"data": {"name": "rightNotes"}, "transform": [{"filter": "datum.label === 'Usa volcano'"}], "mark": {"type": "text", "fontSize": 16.5, "fontWeight": "bold", "angle": 303}, "encoding": {"text": {"field": "label", "type": "nominal"}}},
        {"data": {"name": "rightNotes"}, "transform": [{"filter": "datum.label === 'A' || datum.label === 'B3a' || datum.label === 'B2'"}], "mark": {"type": "text", "fontSize": 20, "fontWeight": "bold"}, "encoding": {"text": {"field": "label", "type": "nominal"}}},
        {"data": {"name": "rightNotes"}, "transform": [{"filter": "datum.label === 'Oceanic cumulate spectrum'"}], "mark": {"type": "text", "fontSize": 19.5, "fontWeight": "bold", "angle": 298}, "encoding": {"text": {"field": "label", "type": "nominal"}}},
        {"data": {"name": "rightBox"}, "mark": {"type": "rect", "fill": "#e0e0e0", "stroke": "black", "strokeWidth": 1.5}, "encoding": {"x2": {"field": "x2"}, "y2": {"field": "y2"}}},
        {"data": {"name": "rightNotes"}, "transform": [{"filter": "datum.label === 'b'"}], "mark": {"type": "text", "fontSize": 26, "fontWeight": "normal"}, "encoding": {"text": {"field": "label", "type": "nominal"}}}
      ]
    }
  ]
}
